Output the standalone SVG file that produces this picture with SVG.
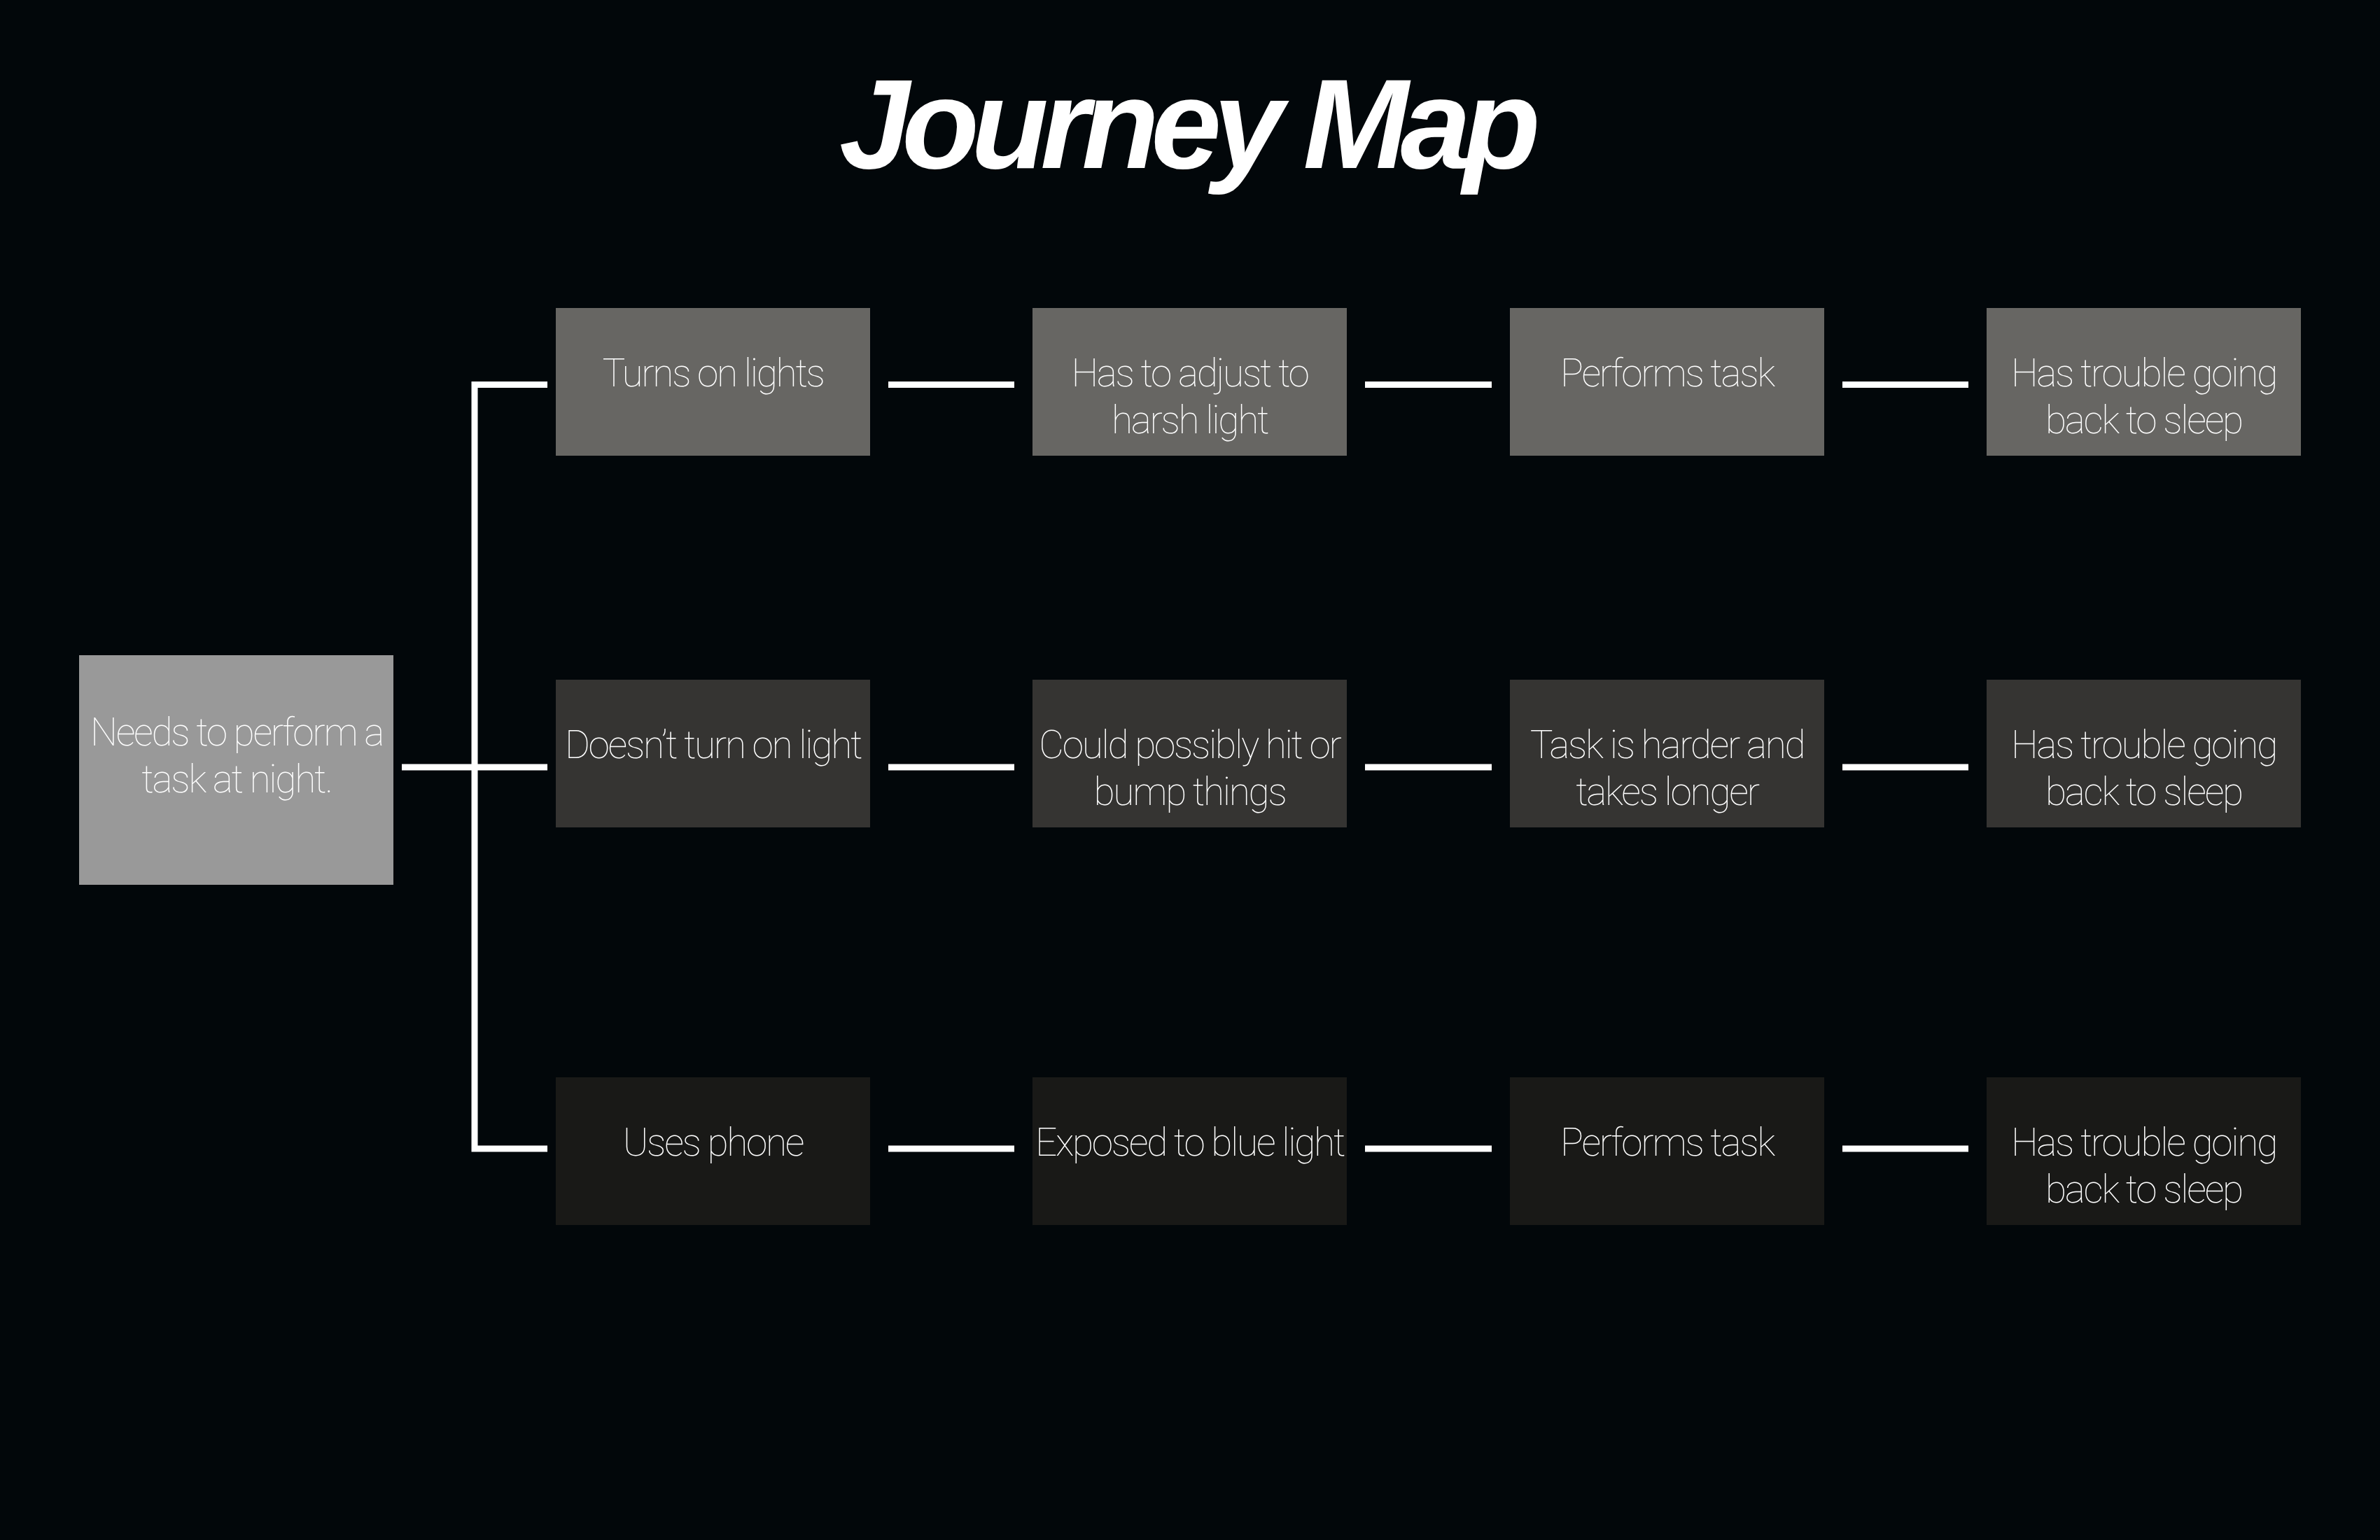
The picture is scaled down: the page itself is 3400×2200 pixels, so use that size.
<svg xmlns="http://www.w3.org/2000/svg" width="3400" height="2200" viewBox="0 0 3400 2200">
<style>
.bg{fill:#02070a}
.n0{fill:#999999}
.n1{fill:#676663}
.n2{fill:#353432}
.n3{fill:#191917}
.t{font-family:Roboto,"Liberation Sans",sans-serif;font-weight:100;font-size:55px;letter-spacing:-2.3px;fill:#ffffff;text-anchor:middle}
.title{font-family:"Liberation Sans",Arial,sans-serif;font-weight:700;font-style:italic;font-size:181px;letter-spacing:-11.5px;fill:#ffffff;text-anchor:middle}
.c{stroke:#ffffff;stroke-width:9;fill:none;stroke-linejoin:miter;stroke-linecap:butt}
</style>
<rect class="bg" x="0" y="0" width="3400" height="2200"/>
<text class="title" x="1694" y="240">Journey Map</text>
<g id="connectors">
<path class="c" d="M782,549.5 H678 V1641 H782"/>
<path class="c" d="M574,1096 H782"/>
<path class="c" d="M1269,549.5 H1449 M1950,549.5 H2131 M2632,549.5 H2812"/>
<path class="c" d="M1269,1096 H1449 M1950,1096 H2131 M2632,1096 H2812"/>
<path class="c" d="M1269,1641 H1449 M1950,1641 H2131 M2632,1641 H2812"/>
</g>
<g id="start">
<rect class="n0" x="113" y="936" width="449" height="328"/>
<text class="t" x="338" y="1065">Needs to perform a</text>
<text class="t" x="338" y="1132">task at night.</text>
</g>
<g id="r1c1"><rect class="n1" x="794" y="440" width="449" height="211"/><text class="t" x="1018.5" y="552">Turns on lights</text></g>
<g id="r1c2"><rect class="n1" x="1475" y="440" width="449" height="211"/><text class="t" x="1699.5" y="552">Has to adjust to</text><text class="t" x="1699.5" y="619">harsh light</text></g>
<g id="r1c3"><rect class="n1" x="2157" y="440" width="449" height="211"/><text class="t" x="2381.5" y="552">Performs task</text></g>
<g id="r1c4"><rect class="n1" x="2838" y="440" width="449" height="211"/><text class="t" x="3062.5" y="552">Has trouble going</text><text class="t" x="3062.5" y="619">back to sleep</text></g>
<g id="r2c1"><rect class="n2" x="794" y="971" width="449" height="211"/><text class="t" x="1018.5" y="1083">Doesn’t turn on light</text></g>
<g id="r2c2"><rect class="n2" x="1475" y="971" width="449" height="211"/><text class="t" x="1699.5" y="1083">Could possibly hit or</text><text class="t" x="1699.5" y="1150">bump things</text></g>
<g id="r2c3"><rect class="n2" x="2157" y="971" width="449" height="211"/><text class="t" x="2381.5" y="1083">Task is harder and</text><text class="t" x="2381.5" y="1150">takes longer</text></g>
<g id="r2c4"><rect class="n2" x="2838" y="971" width="449" height="211"/><text class="t" x="3062.5" y="1083">Has trouble going</text><text class="t" x="3062.5" y="1150">back to sleep</text></g>
<g id="r3c1"><rect class="n3" x="794" y="1539" width="449" height="211"/><text class="t" x="1018.5" y="1651">Uses phone</text></g>
<g id="r3c2"><rect class="n3" x="1475" y="1539" width="449" height="211"/><text class="t" x="1699.5" y="1651">Exposed to blue light</text></g>
<g id="r3c3"><rect class="n3" x="2157" y="1539" width="449" height="211"/><text class="t" x="2381.5" y="1651">Performs task</text></g>
<g id="r3c4"><rect class="n3" x="2838" y="1539" width="449" height="211"/><text class="t" x="3062.5" y="1651">Has trouble going</text><text class="t" x="3062.5" y="1718">back to sleep</text></g>
</svg>
